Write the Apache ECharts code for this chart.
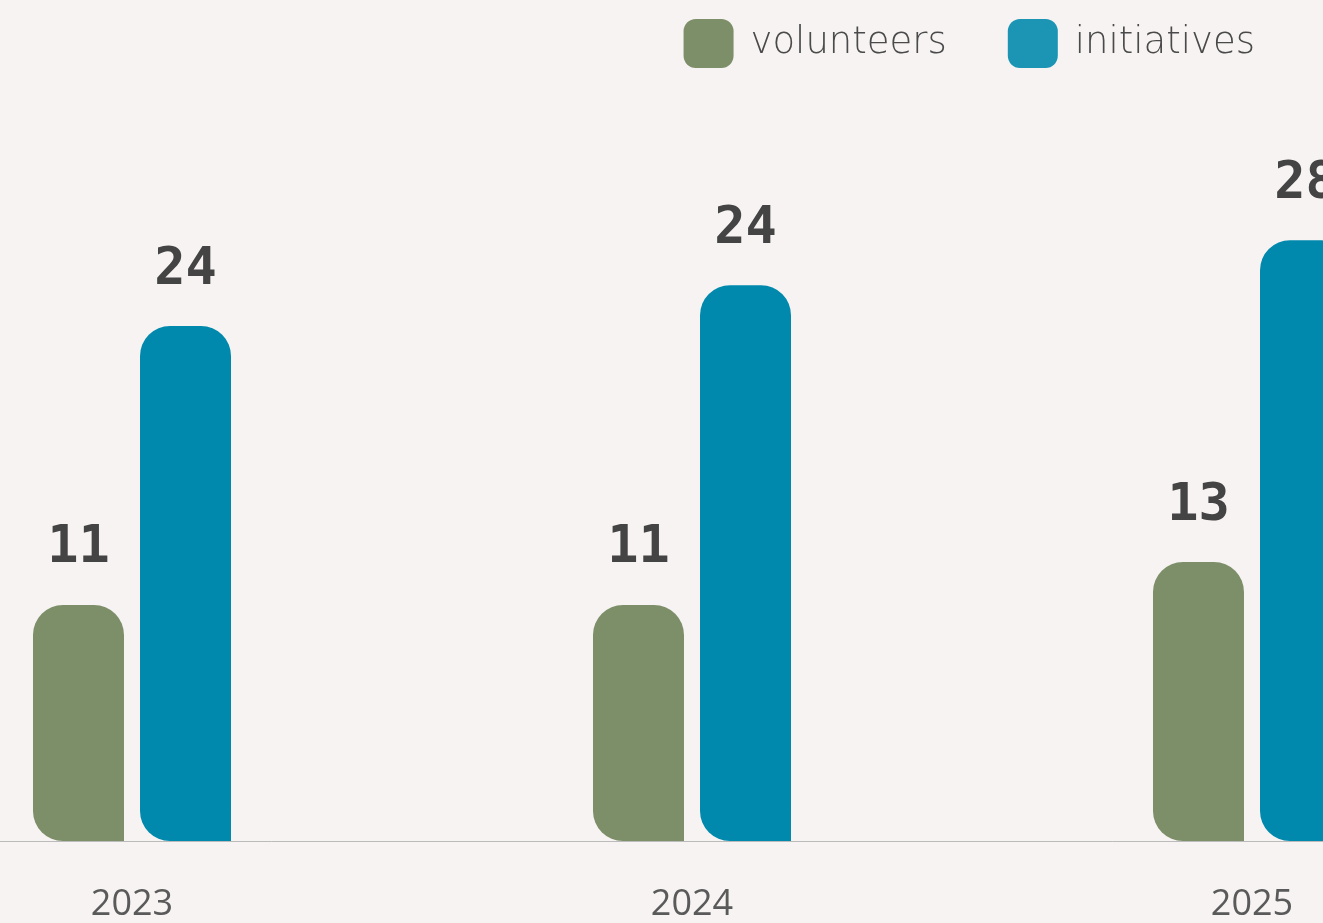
<!DOCTYPE html>
<html><head><meta charset="utf-8">
<script src="https://cdn.jsdelivr.net/npm/echarts@6/dist/echarts.min.js"></script>
<style>html,body{margin:0;padding:0;background:#f7f3f2;overflow:hidden;width:1323px;height:923px;position:relative}#c{position:absolute;left:-148px;top:0;width:1680px;height:923px}</style>
</head><body><div id="c"></div>
<script>
const categories = ['2023', '2024', '2025'];
const volunteers = [11, 11, 13];
const initiatives = [24, 25.9, 28];
const volunteerLabels = ['11', '11', '13'];
const initiativeLabels = ['24', '24', '28'];

const chart = echarts.init(document.getElementById('c'));
const labelStyle = {
  show: true, position: 'top', distance: 30,
  fontFamily: 'DejaVu Sans Mono', fontWeight: 'bold', fontSize: 52, color: '#444444'
};
chart.setOption({
  backgroundColor: '#f7f3f2',
  animation: false,
  legend: {
    right: 272, top: 14, itemWidth: 50, itemHeight: 49, itemGap: 61,
    icon: 'roundRect',
    textStyle: { fontFamily: 'DejaVu Sans', fontWeight: 200, fontSize: 37, color: '#4a4a4a', padding: [0, 0, 0, 12] },
    data: [
      { name: 'volunteers', itemStyle: { color: '#7d8f69' } },
      { name: 'initiatives', itemStyle: { color: '#1c95b5' } }
    ]
  },
  grid: { left: 0, right: 0, top: 90, bottom: 81, containLabel: false },
  xAxis: {
    type: 'category', data: categories,
    axisLine: { show: true, lineStyle: { color: '#bbbbbb', width: 1 } },
    axisTick: { show: false },
    axisLabel: { fontFamily: 'Open Sans', fontSize: 36, color: '#5a5a5a', margin: 46 }
  },
  yAxis: { type: 'value', min: 0, max: 35, show: false, splitLine: { show: false } },
  series: [
    { name: 'volunteers', type: 'bar', data: volunteers, barWidth: 91, barGap: '17.6%',
      itemStyle: { color: '#7d8f69', borderRadius: [30, 30, 0, 30] },
      label: Object.assign({}, labelStyle, { formatter: p => volunteerLabels[p.dataIndex] }) },
    { name: 'initiatives', type: 'bar', data: initiatives, barWidth: 91,
      itemStyle: { color: '#0089ad', borderRadius: [30, 30, 0, 30] },
      label: Object.assign({}, labelStyle, { formatter: p => initiativeLabels[p.dataIndex] }) }
  ]
});
</script></body></html>
